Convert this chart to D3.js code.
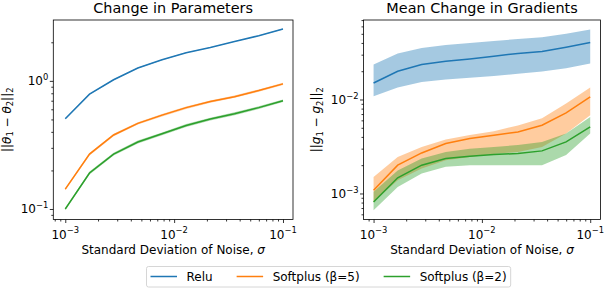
<!DOCTYPE html>
<html>
<head>
<meta charset="utf-8">
<script src="https://cdn.jsdelivr.net/npm/d3@7"></script>
<style>
  body { margin: 0; background: #fff; }
  svg { display: block; font-family: "DejaVu Sans", sans-serif; }
</style>
</head>
<body>
<svg id="fig" width="604" height="288"></svg>
<script>
// noise levels (x axis, both panels)
var sigma = [0.001, 0.00167, 0.00278, 0.00464, 0.00774, 0.0129, 0.0215, 0.0359, 0.0599, 0.1];

// left panel: ||theta_1 - theta_2||_2
var paramRelu   = [0.507, 0.787, 1.02, 1.26, 1.46, 1.66, 1.82, 2.03, 2.25, 2.54];
var paramReluLo = [0.502, 0.780, 1.01, 1.25, 1.45, 1.65, 1.81, 2.02, 2.24, 2.52];
var paramReluHi = [0.512, 0.794, 1.03, 1.27, 1.47, 1.67, 1.83, 2.04, 2.26, 2.56];
var paramSp5    = [0.143, 0.268, 0.378, 0.466, 0.540, 0.618, 0.689, 0.753, 0.840, 0.947];
var paramSp5Lo  = [0.140, 0.262, 0.370, 0.456, 0.528, 0.604, 0.674, 0.737, 0.822, 0.928];
var paramSp5Hi  = [0.146, 0.274, 0.386, 0.476, 0.552, 0.632, 0.704, 0.769, 0.858, 0.966];
var paramSp2    = [0.100, 0.191, 0.268, 0.333, 0.386, 0.448, 0.503, 0.554, 0.618, 0.700];
var paramSp2Lo  = [0.098, 0.186, 0.261, 0.324, 0.376, 0.436, 0.490, 0.540, 0.602, 0.683];
var paramSp2Hi  = [0.102, 0.196, 0.275, 0.342, 0.396, 0.460, 0.516, 0.568, 0.634, 0.717];

// right panel: mean ||g_1 - g_2||_2
var gradRelu   = [0.0150, 0.0200, 0.0236, 0.0255, 0.0270, 0.0289, 0.0309, 0.0325, 0.0360, 0.0404];
var gradReluLo = [0.0108, 0.0134, 0.0154, 0.0163, 0.0170, 0.0178, 0.0188, 0.0198, 0.0215, 0.0242];
var gradReluHi = [0.0236, 0.0309, 0.0354, 0.0380, 0.0400, 0.0420, 0.0440, 0.0460, 0.0500, 0.0556];
var gradSp5    = [0.00108, 0.00200, 0.00270, 0.00340, 0.00385, 0.00417, 0.00452, 0.00533, 0.00720, 0.01066];
var gradSp5Lo  = [0.00081, 0.00138, 0.00184, 0.00226, 0.00245, 0.00263, 0.00277, 0.00313, 0.00435, 0.00680];
var gradSp5Hi  = [0.00150, 0.00245, 0.00313, 0.00375, 0.00420, 0.00460, 0.00530, 0.00630, 0.00906, 0.01340];
var gradSp2    = [0.00081, 0.00147, 0.00200, 0.00236, 0.00249, 0.00260, 0.00266, 0.00284, 0.00354, 0.00510];
var gradSp2Lo  = [0.000664, 0.00117, 0.00163, 0.00192, 0.00200, 0.00200, 0.00200, 0.00200, 0.00257, 0.00435];
var gradSp2Hi  = [0.00104, 0.00176, 0.00236, 0.00277, 0.00300, 0.00313, 0.00327, 0.00354, 0.00435, 0.00653];

var seriesNames  = ["Relu", "Softplus (\u03b2=5)", "Softplus (\u03b2=2)"];
var seriesColors = ["#1f77b4", "#ff7f0e", "#2ca02c"];

var svg = d3.select("#fig");

// write text made of pieces: [string, kind] with kind "", "i", "sub", "sup"
function richText(sel, parts, size) {
  var shift = 0;
  parts.forEach(function(p) {
    var t = sel.append("tspan").text(p[0]);
    var want = 0;
    if (p[1] == "sub") want = 0.22 * size;
    if (p[1] == "sup") want = -0.42 * size;
    if (want != shift) { t.attr("dy", want - shift); shift = want; }
    if (p[1] == "sub" || p[1] == "sup") t.style("font-size", (size * 0.7) + "px");
    if (p[1] == "i") t.style("font-style", "italic");
  });
}

function powLabel(v) {
  var e = Math.round(Math.log10(v));
  return [["10", ""], [(e < 0 ? "\u2212" : "") + Math.abs(e), "sup"]];
}

function drawPanel(cfg) {
  var x = d3.scaleLog().domain(cfg.xDom).range([cfg.left, cfg.right]);
  var y = d3.scaleLog().domain(cfg.yDom).range([cfg.bottom, cfg.top]);
  var g = svg.append("g");

  g.append("clipPath").attr("id", "clip-" + cfg.id)
    .append("rect")
    .attr("x", cfg.left).attr("y", cfg.top)
    .attr("width", cfg.right - cfg.left).attr("height", cfg.bottom - cfg.top);

  var plot = g.append("g").attr("clip-path", "url(#clip-" + cfg.id + ")");

  cfg.series.forEach(function(s, i) {
    var rows = sigma.map(function(v, k) { return {x: v, m: s.mean[k], lo: s.lo[k], hi: s.hi[k]}; });
    plot.append("path")
      .attr("d", d3.area().x(function(d) { return x(d.x); })
        .y0(function(d) { return y(d.lo); }).y1(function(d) { return y(d.hi); })(rows))
      .style("fill", seriesColors[i]).style("fill-opacity", 0.4).style("stroke", "none");
    plot.append("path")
      .attr("d", d3.line().x(function(d) { return x(d.x); }).y(function(d) { return y(d.m); })(rows))
      .style("fill", "none").style("stroke", seriesColors[i]).style("stroke-width", 1.5);
  });

  // minor / major ticks
  var isMajor = function(v) { return Math.abs(Math.log10(v) - Math.round(Math.log10(v))) < 1e-6; };
  var xt = x.ticks(), yt = y.ticks();

  g.append("g").attr("transform", "translate(0," + cfg.bottom + ")")
    .call(d3.axisBottom(x).tickValues(xt.filter(function(v) { return !isMajor(v); })).tickSize(2).tickFormat(""))
    .call(function(a) { a.select(".domain").remove(); });
  g.append("g").attr("transform", "translate(0," + cfg.bottom + ")")
    .call(d3.axisBottom(x).tickValues(xt.filter(isMajor)).tickSize(3.5).tickFormat(""))
    .call(function(a) { a.select(".domain").remove(); });
  g.append("g").attr("transform", "translate(" + cfg.left + ",0)")
    .call(d3.axisLeft(y).tickValues(yt.filter(function(v) { return !isMajor(v); })).tickSize(2).tickFormat(""))
    .call(function(a) { a.select(".domain").remove(); });
  g.append("g").attr("transform", "translate(" + cfg.left + ",0)")
    .call(d3.axisLeft(y).tickValues(yt.filter(isMajor)).tickSize(3.5).tickFormat(""))
    .call(function(a) { a.select(".domain").remove(); });
  g.selectAll(".tick line").style("stroke", "#000").style("stroke-width", 0.8);

  xt.filter(isMajor).forEach(function(v) {
    var t = g.append("text").attr("x", x(v)).attr("y", cfg.bottom + 19)
      .style("font-size", "12px").style("text-anchor", "middle").style("fill", "#000");
    richText(t, powLabel(v), 12);
  });
  yt.filter(isMajor).forEach(function(v) {
    var t = g.append("text").attr("x", cfg.left - 5).attr("y", y(v) + 4.3)
      .style("font-size", "12px").style("text-anchor", "end").style("fill", "#000");
    richText(t, powLabel(v), 12);
  });

  g.append("rect")
    .attr("x", cfg.left).attr("y", cfg.top)
    .attr("width", cfg.right - cfg.left).attr("height", cfg.bottom - cfg.top)
    .style("fill", "none").style("stroke", "#000").style("stroke-width", 0.8);

  g.append("text").attr("x", (cfg.left + cfg.right) / 2).attr("y", 12.5)
    .style("font-size", "14.4px").style("text-anchor", "middle")
    .text(cfg.title);

  var xl = g.append("text").attr("x", (cfg.left + cfg.right) / 2).attr("y", 254)
    .style("font-size", "12px").style("text-anchor", "middle");
  richText(xl, [["Standard Deviation of Noise, ", ""], ["\u03c3", "i"]], 12);

  var yl = g.append("text")
    .attr("transform", "translate(" + cfg.ylabelX + "," + ((cfg.top + cfg.bottom) / 2) + ") rotate(-90)")
    .style("font-size", "12px").style("text-anchor", "middle");
  richText(yl, cfg.ylabel, 12);
}

drawPanel({
  id: "param", title: "Change in Parameters",
  left: 53.3, right: 293, top: 20, bottom: 219.5,
  xDom: [Math.pow(10, -3.11), Math.pow(10, -0.908)],
  yDom: [Math.pow(10, -1.082), Math.pow(10, 0.475)],
  ylabelX: 10.5,
  ylabel: [["||", ""], ["\u03b8", "i"], ["1", "sub"], [" \u2212 ", ""], ["\u03b8", "i"], ["2", "sub"], ["||", ""], ["2", "sub"]],
  series: [
    {mean: paramRelu, lo: paramReluLo, hi: paramReluHi},
    {mean: paramSp5, lo: paramSp5Lo, hi: paramSp5Hi},
    {mean: paramSp2, lo: paramSp2Lo, hi: paramSp2Hi}
  ]
});

drawPanel({
  id: "grad", title: "Mean Change in Gradients",
  left: 363.5, right: 600.5, top: 20, bottom: 219.5,
  xDom: [Math.pow(10, -3.093), Math.pow(10, -0.905)],
  yDom: [Math.pow(10, -3.277), Math.pow(10, -1.154)],
  ylabelX: 320,
  ylabel: [["||", ""], ["g", "i"], ["1", "sub"], [" \u2212 ", ""], ["g", "i"], ["2", "sub"], ["||", ""], ["2", "sub"]],
  series: [
    {mean: gradRelu, lo: gradReluLo, hi: gradReluHi},
    {mean: gradSp5, lo: gradSp5Lo, hi: gradSp5Hi},
    {mean: gradSp2, lo: gradSp2Lo, hi: gradSp2Hi}
  ]
});

// legend below the panels
var leg = svg.append("g");
var box = leg.append("rect")
  .attr("x", 146.5).attr("y", 266.5).attr("height", 20.5).attr("rx", 2)
  .style("fill", "#fff").style("fill-opacity", 0.8).style("stroke", "#cccccc").style("stroke-width", 0.8);
var cx = 150.5;
seriesNames.forEach(function(name, i) {
  leg.append("line").attr("x1", cx).attr("x2", cx + 26.5).attr("y1", 276.5).attr("y2", 276.5)
    .style("stroke", seriesColors[i]).style("stroke-width", 1.5);
  var t = leg.append("text").attr("x", cx + 36).attr("y", 280.8)
    .style("font-size", "12px").text(name);
  cx = cx + 36 + t.node().getComputedTextLength() + (i < seriesNames.length - 1 ? 24 : 4);
});
box.attr("width", cx - 146.5);
</script>
</body>
</html>
